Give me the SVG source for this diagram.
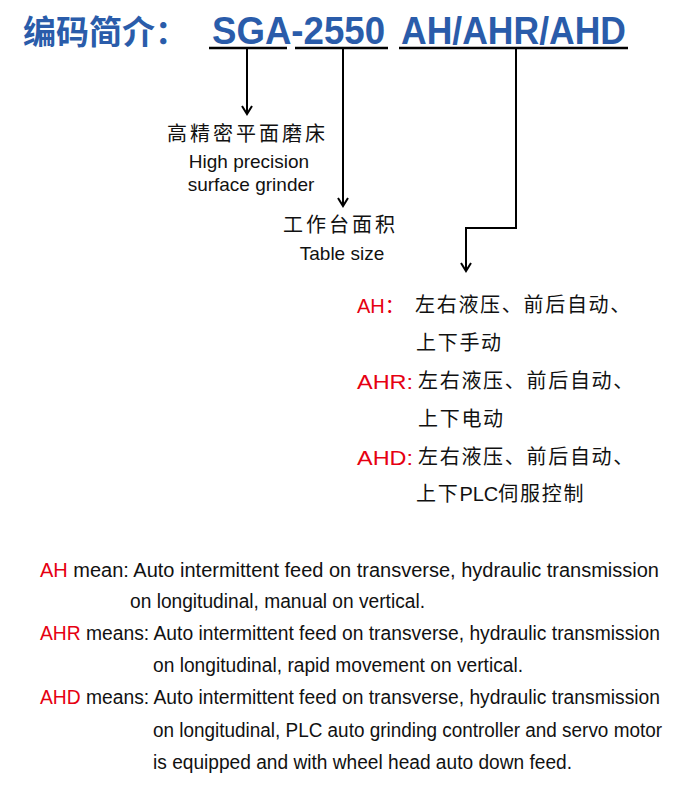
<svg xmlns="http://www.w3.org/2000/svg" width="700" height="786" viewBox="0 0 700 786">
<defs>
<marker id="arr" markerUnits="userSpaceOnUse" markerWidth="12" markerHeight="12" refX="10" refY="6" orient="auto" viewBox="0 0 12 12">
<path d="M2,1 L10,6 L2,11" fill="none" stroke="#000" stroke-width="2"/>
</marker>
<style>
.title{font-family:"Liberation Sans",Arial,sans-serif;font-weight:bold;font-size:38px;fill:#2a5caa}
.titlecn{font-family:"Noto Sans CJK SC",sans-serif;font-weight:bold;font-size:33px;fill:#2a5caa}
.cn{font-family:"Noto Sans CJK SC",sans-serif;font-size:20px;fill:#111}
.cnL{letter-spacing:3px}
.cnR{letter-spacing:1.7px}
.lat{font-family:"Liberation Sans",Arial,sans-serif;letter-spacing:0}
.en{font-family:"Liberation Sans",Arial,sans-serif;font-size:19px;fill:#111}
.desc{font-family:"Liberation Sans",Arial,sans-serif;font-size:20px;fill:#111}
.red{fill:#e60012}
.ul{stroke:#000;stroke-width:2.6;fill:none}
.conn{stroke:#000;stroke-width:2;fill:none}
</style>
</defs>
<rect width="700" height="786" fill="#fff"/>

<g id="title">
<text class="titlecn" x="23" y="44">编码简介：</text>
<text class="title" x="212" y="44" textLength="173" lengthAdjust="spacingAndGlyphs">SGA-2550</text>
<text class="title" x="401" y="44" textLength="225" lengthAdjust="spacingAndGlyphs">AH/AHR/AHD</text>
<line class="ul" x1="209" y1="48" x2="287" y2="48"/>
<line class="ul" x1="295" y1="48" x2="388" y2="48"/>
<line class="ul" x1="399" y1="48" x2="628" y2="48"/>
</g>

<g id="connectors">
<path class="conn" d="M247,48 V114" marker-end="url(#arr)"/>
<path class="conn" d="M343,48 V206" marker-end="url(#arr)"/>
<path class="conn" d="M516,48 V228 H466 V271" marker-end="url(#arr)"/>
</g>

<g id="node-type">
<text class="cn cnL" x="167" y="141">高精密平面磨床</text>
<text class="en" x="249" y="168" text-anchor="middle">High precision</text>
<text class="en" x="251" y="191" text-anchor="middle">surface grinder</text>
</g>

<g id="node-size">
<text class="cn cnL" x="283" y="232">工作台面积</text>
<text class="en" x="342" y="260" text-anchor="middle">Table size</text>
</g>

<g id="node-options">
<text class="desc red" x="357" y="313">AH<tspan font-family="Noto Sans CJK SC, sans-serif">：</tspan></text>
<text class="cn cnR" x="415" y="312">左右液压、前后自动、</text>
<text class="cn cnR" x="416" y="350">上下手动</text>
<text class="desc red" x="357" y="389" textLength="56" lengthAdjust="spacingAndGlyphs">AHR:</text>
<text class="cn cnR" x="418" y="388">左右液压、前后自动、</text>
<text class="cn cnR" x="418" y="426">上下电动</text>
<text class="desc red" x="357" y="465" textLength="56" lengthAdjust="spacingAndGlyphs">AHD:</text>
<text class="cn cnR" x="418" y="464">左右液压、前后自动、</text>
<text class="cn cnR" x="416" y="501">上下<tspan class="lat">PLC</tspan>伺服控制</text>
</g>

<g id="legend">
<text class="desc" x="40" y="577" textLength="619" lengthAdjust="spacingAndGlyphs"><tspan class="red">AH</tspan> mean: Auto intermittent feed on transverse, hydraulic transmission</text>
<text class="desc" x="130" y="608" textLength="295" lengthAdjust="spacingAndGlyphs">on longitudinal, manual on vertical.</text>
<text class="desc" x="40" y="640" textLength="620" lengthAdjust="spacingAndGlyphs"><tspan class="red">AHR</tspan> means: Auto intermittent feed on transverse, hydraulic transmission</text>
<text class="desc" x="153" y="672" textLength="370" lengthAdjust="spacingAndGlyphs">on longitudinal, rapid movement on vertical.</text>
<text class="desc" x="40" y="704" textLength="620" lengthAdjust="spacingAndGlyphs"><tspan class="red">AHD</tspan> means: Auto intermittent feed on transverse, hydraulic transmission</text>
<text class="desc" x="153" y="737" textLength="509" lengthAdjust="spacingAndGlyphs">on longitudinal, PLC auto grinding controller and servo motor</text>
<text class="desc" x="153" y="769" textLength="419" lengthAdjust="spacingAndGlyphs">is equipped and with wheel head auto down feed.</text>
</g>
</svg>
